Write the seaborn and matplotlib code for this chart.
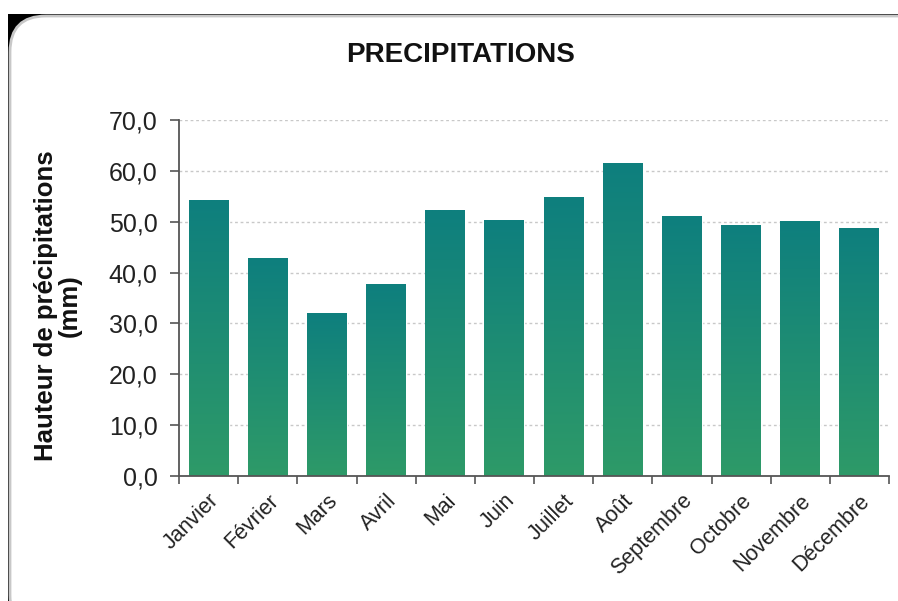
import numpy as np
import matplotlib
matplotlib.use("Agg")
import matplotlib.pyplot as plt
import seaborn as sns
import pandas as pd
from matplotlib.patches import FancyBboxPatch, Rectangle
from matplotlib.colors import LinearSegmentedColormap
from matplotlib.ticker import FuncFormatter, MultipleLocator

# data
mois = ["Janvier", "Février", "Mars", "Avril", "Mai", "Juin", "Juillet",
        "Août", "Septembre", "Octobre", "Novembre", "Décembre"]
precip = [54.0, 42.6, 31.9, 37.5, 52.2, 50.1, 54.6, 61.4, 50.9, 49.1, 49.9, 48.6]

df = pd.DataFrame({"mois": mois, "precip": precip})

sns.set_style("white")
plt.rcParams['font.family'] = ['Liberation Sans', 'DejaVu Sans']

fig = plt.figure(figsize=(8.98, 6.01), dpi=100)

# black corners + rounded white card
fig.patches.append(Rectangle((8/898, 0), 1, 1 - 14/601, transform=fig.transFigure,
                             facecolor="black", edgecolor="none", zorder=-3))
fig.patches.append(FancyBboxPatch((10/898, -0.05), 1.2, 1 - 16/601 + 0.05,
                                  boxstyle="round,pad=0,rounding_size=0.04",
                                  transform=fig.transFigure, facecolor="white",
                                  edgecolor="#c8c8c8", linewidth=2, zorder=-2,
                                  mutation_aspect=898/601))

ax = fig.add_axes([179/898, 1 - 476.3/601, 710/898, (476.3 - 119.7)/601])
ax.set_facecolor("none")

sns.barplot(data=df, x="mois", y="precip", ax=ax, width=0.675,
            color="#1a8a78", saturation=1, zorder=2)

# vertical gradient in each bar: teal at top, green at bottom
cmap = LinearSegmentedColormap.from_list("pluie", ["#2e9a68", "#0e7f7e"])
grad = np.linspace(0, 1, 256).reshape(-1, 1)
for p in ax.patches:
    x0, w, h = p.get_x(), p.get_width(), p.get_height()
    p.set_facecolor("none")
    ax.imshow(grad, extent=[x0, x0 + w, 0, h], origin="lower", aspect="auto",
              cmap=cmap, zorder=2)

ax.set_xlim(-0.5, len(mois) - 0.5)
ax.set_ylim(0, 70)

ax.yaxis.set_major_locator(MultipleLocator(10))
ax.yaxis.set_major_formatter(FuncFormatter(lambda v, _: f"{v:.1f}".replace(".", ",")))
ax.grid(axis="y", color="#c8c8c8", linestyle=(0, (2, 2)), linewidth=1, zorder=0)
ax.set_axisbelow(True)

for s in ["top", "right"]:
    ax.spines[s].set_visible(False)
for s in ["left", "bottom"]:
    ax.spines[s].set_color("#555555")
    ax.spines[s].set_linewidth(1.3)

ax.tick_params(axis="y", left=True, length=6.5, width=1.2, color="#555555",
               labelsize=18, labelcolor="#222222", pad=9)
ax.set_xticks(range(len(mois)))
ax.set_xticks(np.arange(-0.5, len(mois)), minor=True)
ax.tick_params(axis="x", which="major", length=0, pad=10)
ax.tick_params(axis="x", which="minor", bottom=True, length=6, width=1.2, color="#555555")
ax.set_xticklabels(mois, rotation=45, ha="right", rotation_mode="anchor",
                   fontsize=15.5, color="#222222")
ax.set_xlabel("")
ax.set_ylabel("")

fig.text(461/898, 1 - 55/601, "PRECIPITATIONS", ha="center", va="center",
         fontsize=20, fontweight="bold", color="#111111")
fig.text(58/898, 1 - 306/601, "Hauteur de précipitations\n(mm)", ha="center",
         va="center", rotation=90, fontsize=18.5, fontweight="bold",
         color="#111111", linespacing=0.95)

fig.savefig("out.png", dpi=100)
